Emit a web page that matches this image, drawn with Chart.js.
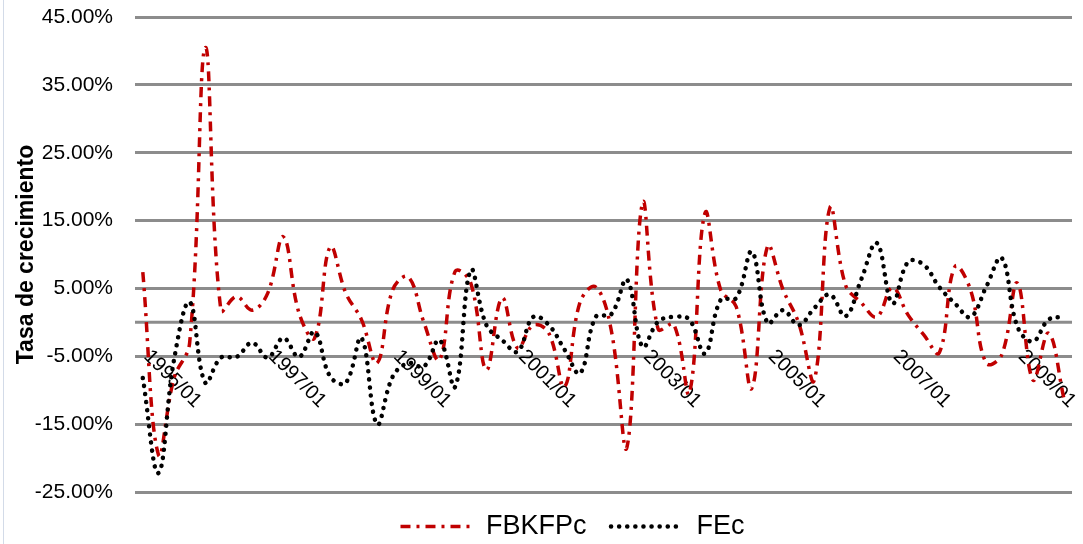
<!DOCTYPE html>
<html>
<head>
<meta charset="utf-8">
<script src="https://cdn.jsdelivr.net/npm/chart.js@4.4.0/dist/chart.umd.min.js"></script>
<style>
  html, body { margin: 0; padding: 0; background: #fff; }
  #wrap { position: relative; width: 1083px; height: 544px; }
  #edge { position: absolute; left: 3px; top: 0; width: 1px; height: 544px; background: #d3dbe8; }
</style>
</head>
<body>
<div id="wrap">
  <canvas id="chart"></canvas>
  <div id="edge"></div>
</div>
<script>
// Datos trimestrales 1995/01 - 2009/04 (tasas en %)
const YEARS = [1995, 1996, 1997, 1998, 1999, 2000, 2001, 2002, 2003, 2004, 2005, 2006, 2007, 2008, 2009];
const QUARTERS = ['01', '02', '03', '04'];
const TICK_LABELS = ['1995/01', '1997/01', '1999/01', '2001/01', '2003/01', '2005/01', '2007/01', '2009/01'];

const FBKFPC = [
    7.4, -19.5, -8.2, -3.0, 40.5, 1.8, 3.8, 1.8, 4.3, 12.6,
    1.4, -2.3, 11.1, 4.3, 0.4, -6.0, 4.8, 6.7, 0.0, -5.5,
    7.5, 5.8, -7.0, 3.6, -3.8, -0.4, -1.6, -9.5, 3.0, 5.2,
    -1.2, -18.4, 17.6, -1.0, -0.3, -10.4, 16.1, 4.8, 2.3, -9.7,
    11.2, 4.8, -0.1, -8.5, 16.9, 5.5, 2.9, 0.8, 5.1, 1.1,
    -1.8, -4.5, 8.2, 4.8, -6.0, -4.8, 5.8, -8.5, -1.6, -11.4
];
const FEC = [
    -8.2, -22.2, -5.5, 3.0, -8.9, -5.2, -5.1, -3.0, -5.2, -2.3,
    -5.1, -1.4, -8.0, -8.9, -2.3, -15.0, -8.0, -6.0, -6.5, -2.6,
    -9.5, 7.7, -0.4, -2.6, -4.3, 0.8, -0.4, -4.0, -7.5, 0.8,
    1.2, 6.3, -3.6, 0.1, 0.8, 0.4, -4.6, 3.3, 3.6, 10.4,
    -0.1, 1.8, -0.4, 2.1, 4.1, 0.9, 6.3, 11.7, 2.8, 8.9,
    8.5, 5.2, 2.8, 0.8, 5.2, 9.5, -0.6, -2.8, 0.4, 0.8
];

const labels = [];
YEARS.forEach(y => QUARTERS.forEach(q => labels.push(y + '/' + q)));

const FONT = "'Liberation Sans', Arial, sans-serif";
const GRID = '#8c8c8c';

// Linea del cero y etiquetas de fecha giradas sobre ella
const zeroAxisPlugin = {
    id: 'zeroAxis',
    afterLayout(chart) {
        // la leyenda del original va algo desplazada a la derecha
        chart.legend.left += 30;
        chart.legend.right += 30;
    },
    beforeDatasetsDraw(chart) {
        const { ctx, chartArea, scales } = chart;
        const y0 = scales.y.getPixelForValue(0);
        ctx.save();
        ctx.strokeStyle = GRID;
        ctx.lineWidth = 3;
        ctx.beginPath();
        ctx.moveTo(chartArea.left, y0);
        ctx.lineTo(chartArea.right, y0);
        ctx.stroke();

        ctx.fillStyle = '#000';
        ctx.font = '20px ' + FONT;
        ctx.textAlign = 'left';
        ctx.textBaseline = 'middle';
        TICK_LABELS.forEach(lbl => {
            const x = scales.x.getPixelForValue(labels.indexOf(lbl));
            ctx.save();
            ctx.translate(x + 4, y0 + 31);
            ctx.rotate(Math.PI / 4);
            ctx.fillText(lbl, 0, 0);
            ctx.restore();
        });
        ctx.restore();
    }
};

new Chart(document.getElementById('chart'), {
    type: 'line',
    data: {
        labels: labels,
        datasets: [
            {
                label: 'FBKFPc',
                data: FBKFPC,
                borderColor: '#c00000',
                backgroundColor: '#c00000',
                borderWidth: 3.5,
                borderDash: [10, 6, 3, 6],
                borderCapStyle: 'butt',
                tension: 0.4,
                pointRadius: 0,
                order: 1
            },
            {
                label: 'FEc',
                data: FEC,
                borderColor: '#000',
                backgroundColor: '#000',
                borderWidth: 4.5,
                borderDash: [0.1, 8],
                borderCapStyle: 'round',
                tension: 0.4,
                pointRadius: 0,
                order: 0
            }
        ]
    },
    options: {
        responsive: true,
        maintainAspectRatio: false,
        animation: false,
        layout: { padding: { left: 13, right: 11, top: 17, bottom: -6 } },
        plugins: {
            legend: {
                position: 'bottom',
                labels: {
                    color: '#000',
                    font: { family: FONT, size: 27 },
                    usePointStyle: true,
                    pointStyle: 'line',
                    pointStyleWidth: 72,
                    padding: 2,
                    sort: (a, b) => a.datasetIndex - b.datasetIndex,
                    generateLabels: chart => {
                        const items = Chart.defaults.plugins.legend.labels.generateLabels(chart);
                        items.forEach(it => {
                            const ds = chart.data.datasets[it.datasetIndex];
                            it.strokeStyle = ds.borderColor;
                            it.lineWidth = ds.borderWidth;
                            it.lineDash = ds.borderDash;
                            it.lineCap = ds.borderCapStyle;
                            if (it.datasetIndex === 0) it.text = it.text + '   ';
                        });
                        return items;
                    }
                }
            },
            tooltip: { enabled: false }
        },
        scales: {
            x: {
                offset: true,
                ticks: { display: false },
                grid: { display: false },
                border: { display: false },
                afterFit: s => { s.height = 19; }
            },
            y: {
                min: -25,
                max: 45,
                ticks: {
                    stepSize: 10,
                    color: '#000',
                    font: { family: FONT, size: 21 },
                    padding: 22,
                    callback: v => v.toFixed(2) + '%'
                },
                grid: { color: GRID, lineWidth: 3, drawTicks: false },
                border: { display: false },
                title: {
                    display: true,
                    text: 'Tasa de crecimiento',
                    color: '#000',
                    font: { family: FONT, size: 23, weight: 'bold' },
                    padding: { top: 0, bottom: 4 }
                },
                afterFit: s => {
                    s.width = 122;
                    s.paddingTop = 0;
                    s.paddingBottom = 0;
                }
            }
        }
    },
    plugins: [zeroAxisPlugin]
});
</script>
</body>
</html>
